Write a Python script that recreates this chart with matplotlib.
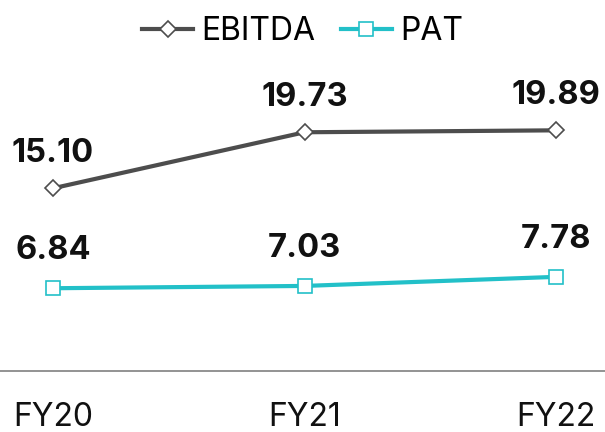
import matplotlib
matplotlib.use("Agg")
import matplotlib.pyplot as plt

years = ["FY20", "FY21", "FY22"]
ebitda = [15.10, 19.73, 19.89]
pat = [6.84, 7.03, 7.78]

plt.rcParams['font.family'] = ['Inter', 'DejaVu Sans']

fig = plt.figure(figsize=(6.05, 4.32), dpi=100)
ax = fig.add_axes([0, 1 - 371/432, 1, 371/432])
x = list(range(len(years)))

ax.plot(x, ebitda, color='#4d4d4d', lw=3, marker='D', ms=8, mfc='white',
        mec='#4d4d4d', mew=1.2, label='EBITDA', zorder=3)
ax.plot(x, pat, color='#22c0c8', lw=3, marker='s', ms=10, mfc='white',
        mec='#22c0c8', mew=1.2, label='PAT', zorder=3)

for xi, v in zip(x, ebitda):
    ax.annotate(f"{v:.2f}", (xi, v), xytext=(0, 19), textcoords='offset points',
                ha='center', va='baseline', fontsize=23.5, fontweight='bold', color='#111111')
for xi, v in zip(x, pat):
    ax.annotate(f"{v:.2f}", (xi, v), xytext=(0, 21), textcoords='offset points',
                ha='center', va='baseline', fontsize=23.5, fontweight='bold', color='#111111')

ax.set_xlim(-53/251.5, 2 + 49/251.5)
ax.set_ylim(0, 371/12.1)
ax.set_xticks(x)
ax.set_xticklabels(years, fontsize=23, color='#111111')
ax.tick_params(axis='x', length=0, pad=22)
ax.set_yticks([])
for s in ['top', 'left', 'right']:
    ax.spines[s].set_visible(False)
ax.spines['bottom'].set_color('#8a8a8a')
ax.spines['bottom'].set_linewidth(1.3)

fig.legend(loc='upper center', bbox_to_anchor=(0.5, 1.0), ncol=2, frameon=False,
           fontsize=23, handlelength=1.6, handletextpad=0.25, columnspacing=0.8,
           borderaxespad=0.1)

fig.savefig('out.png', dpi=100)
